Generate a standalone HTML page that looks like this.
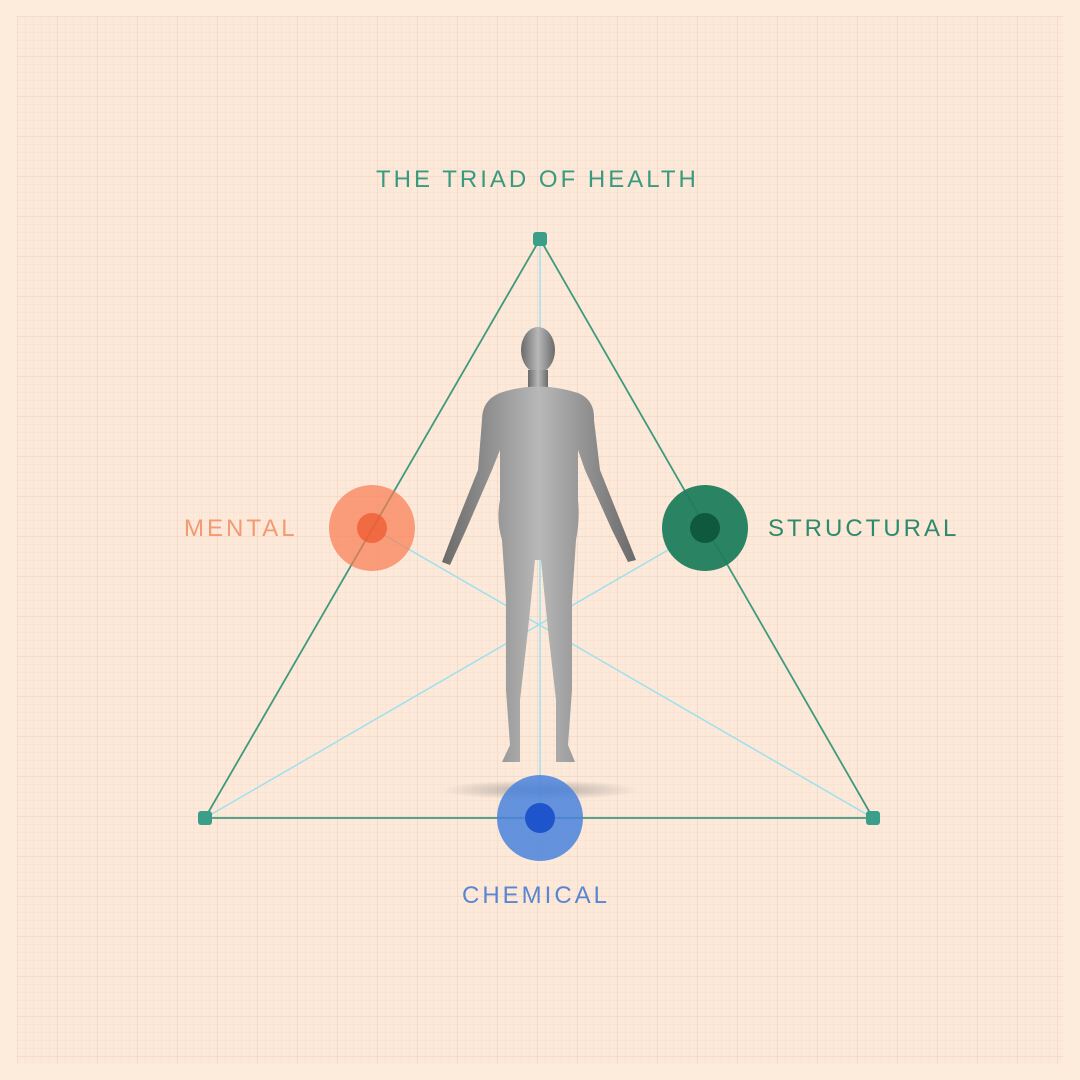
<!DOCTYPE html>
<html><head><style>
html,body{margin:0;padding:0}
body{width:1080px;height:1080px;background:#fdebdc;position:relative;overflow:hidden;font-family:"Liberation Sans",sans-serif}
.grid{position:absolute;left:17px;top:16px;width:1046px;height:1048px;
background-image:linear-gradient(rgba(225,180,150,.16) 1px,transparent 1px),linear-gradient(90deg,rgba(225,180,150,.16) 1px,transparent 1px),linear-gradient(rgba(225,180,150,.09) 1px,transparent 1px),linear-gradient(90deg,rgba(225,180,150,.09) 1px,transparent 1px);
background-size:40px 40px,40px 40px,8px 8px,8px 8px;background-color:#fce9da}
.t{position:absolute;letter-spacing:3px;font-size:24px;white-space:nowrap}
</style></head><body>
<div class="grid"></div>
<div class="t" style="left:376px;top:166px;color:#3a9a80">THE TRIAD OF HEALTH</div>
<div class="t" style="left:184px;top:515px;color:#f29a72">MENTAL</div>
<div class="t" style="left:768px;top:515px;color:#2f8a6c">STRUCTURAL</div>
<div class="t" style="left:462px;top:882px;color:#5a86d0">CHEMICAL</div>
<svg width="1080" height="1080" style="position:absolute;left:0;top:0">
<defs><radialGradient id="sh"><stop offset="0" stop-color="#777" stop-opacity=".55"/><stop offset="1" stop-color="#777" stop-opacity="0"/></radialGradient>
<linearGradient id="bd" x1="0" x2="1"><stop offset="0" stop-color="#6a6a6a"/><stop offset=".5" stop-color="#b8b8b8"/><stop offset="1" stop-color="#6a6a6a"/></linearGradient></defs>
<g stroke="#9ee0ee" stroke-width="1.5">
<line x1="540" y1="239" x2="540" y2="818"/>
<line x1="205" y1="818" x2="706" y2="528"/>
<line x1="873" y1="818" x2="372" y2="528"/>
</g>
<ellipse cx="540" cy="790" rx="100" ry="10" fill="url(#sh)"/>
<g fill="url(#bd)">
<ellipse cx="538" cy="350" rx="17" ry="23"/>
<rect x="528" y="370" width="20" height="20"/>
<path d="M500 393 Q538 380 578 393 Q595 400 594 420 L600 470 L620 520 L636 560 L628 562 L612 530 L585 470 L578 450 L578 500 Q580 520 576 540 L572 600 L572 690 L568 745 L575 762 L556 762 L556 700 L548 630 L541 560 L535 560 L528 630 L520 700 L520 762 L502 762 L510 745 L506 690 L506 600 L502 540 Q496 520 500 500 L500 450 L492 470 L466 530 L450 565 L442 562 L458 520 L478 470 L482 420 Q482 400 500 393 Z"/>
</g>
<g stroke="#3f9a7e" stroke-width="1.8" fill="none">
<polygon points="540,239 205,818 873,818"/>
</g>
<g fill="#3a9e88">
<rect x="533" y="232" width="14" height="14" rx="3"/>
<rect x="198" y="811" width="14" height="14" rx="3"/>
<rect x="866" y="811" width="14" height="14" rx="3"/>
</g>
<circle cx="372" cy="528" r="43" fill="#f97a50" fill-opacity=".7"/>
<circle cx="372" cy="528" r="15" fill="#ee5a30" fill-opacity=".75"/>
<circle cx="705" cy="528" r="43" fill="#1f7d5c" fill-opacity=".95"/>
<circle cx="705" cy="528" r="15" fill="#0f5a3e"/>
<circle cx="540" cy="818" r="43" fill="#4a82dc" fill-opacity=".85"/>
<circle cx="540" cy="818" r="15" fill="#1f55cc"/>
</svg>
</body></html>
